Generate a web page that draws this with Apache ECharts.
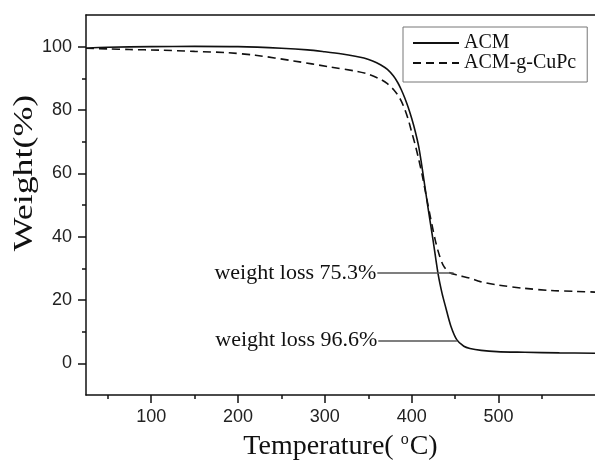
<!DOCTYPE html>
<html><head><meta charset="utf-8">
<script src="https://cdn.jsdelivr.net/npm/echarts@6/dist/echarts.min.js"></script>
<style>html,body{margin:0;padding:0;background:#fff}#c{width:595px;height:463px}</style>
</head><body><div id="c"></div>
<script>
const seriesNames = ['ACM', 'ACM-g-CuPc'];
const acmTemp = [25, 50, 100, 150, 200, 250, 280, 300, 320, 335, 345, 355, 364, 372, 379, 384, 388, 392, 396, 400, 404, 408, 412.5, 418.5, 424.5, 430.5, 435, 439, 445, 452, 460, 467, 480, 498, 530, 570, 611];
const acmWeight = [99.5, 99.8, 100, 100.1, 100, 99.5, 99, 98.4, 97.7, 97, 96.4, 95.5, 94.3, 92.8, 90.7, 88.6, 86.4, 83.8, 80.8, 77.3, 73.3, 68.5, 60.8, 49.6, 39, 28, 22, 17.8, 11.8, 7.4, 5.4, 4.7, 4.1, 3.7, 3.5, 3.3, 3.2];
const cupcTemp = [25, 50, 75, 110, 150, 187, 220, 264, 306, 337, 350, 364, 372, 379, 384, 388, 392, 396, 400, 404, 408, 412, 419, 427, 432, 437, 444, 452, 467, 479, 500, 529, 560, 590, 611];
const cupcWeight = [99.5, 99.3, 99.1, 98.9, 98.5, 98.1, 97.3, 95.5, 93.6, 92.2, 91.3, 89.7, 88.3, 86.5, 84.7, 82.8, 80.2, 77, 73, 69, 64.5, 59.5, 49.6, 39, 34, 30.6, 28.6, 27.9, 26.9, 25.8, 24.7, 23.7, 23, 22.7, 22.5];
const xTickLabels = [100, 200, 300, 400, 500];
const xMinorTicks = [50, 150, 250, 350, 450, 550];
const yTickLabels = [0, 20, 40, 60, 80, 100];
const yMinorTicks = [10, 30, 50, 70, 90];
const annotationTexts = ['weight loss 75.3%', 'weight loss 96.6%'];
const annotationLevels = [28.5, 7.15];
const annotationStart = [360.4, 361.5];
const annotationEnd = [448.2, 452];

const serif = 'Liberation Serif';
const sans = 'Liberation Sans';
const ink = '#111';
const X_MIN = 25, X_MAX = 611, Y_MIN = -10, Y_MAX = 110;

const zip = (a, b) => a.map((v, i) => [v, b[i]]);

const chart = echarts.init(document.getElementById('c'), null, {renderer: 'canvas'});
chart.setOption({
  animation: false,
  backgroundColor: '#fff',
  grid: {left: 86, right: 0, top: 15, bottom: 68, containLabel: false, outerBoundsMode: 'none'},
  legend: {
    data: seriesNames,
    orient: 'vertical',
    left: 403, top: 27,
    itemWidth: 46, itemHeight: 14, itemGap: 0,
    padding: [6, 11, 9, 9],
    borderColor: '#777', borderWidth: 1,
    itemStyle: {color: 'rgba(0,0,0,0)', borderWidth: 0, opacity: 0},
    textStyle: {fontFamily: serif, fontSize: 20, color: ink, lineHeight: 19},
    selectedMode: false
  },
  xAxis: [
    {
      type: 'value', min: X_MIN, max: X_MAX, position: 'bottom',
      axisLine: {show: true, onZero: false, lineStyle: {color: ink, width: 1.5}},
      axisTick: {show: true, customValues: xTickLabels, length: 8, lineStyle: {color: ink, width: 1.5}},
      axisLabel: {customValues: xTickLabels, margin: 13, fontFamily: sans, fontSize: 18, color: '#222'},
      splitLine: {show: false},
      name: '{a|Temperature( }{s|o}{a|C)}',
      nameLocation: 'middle', nameGap: 37,
      nameTextStyle: {
        rich: {
          a: {fontFamily: serif, fontSize: 28, color: ink, lineHeight: 30},
          s: {fontFamily: serif, fontSize: 16, color: ink, lineHeight: 24, verticalAlign: 'top', padding: [0, 1, 0, 0]}
        }
      }
    },
    {
      type: 'value', min: X_MIN, max: X_MAX, position: 'bottom', offset: 0,
      axisLine: {show: false, onZero: false},
      axisTick: {show: true, customValues: xMinorTicks, length: 4, lineStyle: {color: ink, width: 1.5}},
      axisLabel: {show: false},
      splitLine: {show: false}
    },
    {
      type: 'value', min: X_MIN, max: X_MAX, position: 'top',
      axisLine: {show: true, onZero: false, lineStyle: {color: ink, width: 1.5}},
      axisTick: {show: false}, axisLabel: {show: false}, splitLine: {show: false}
    }
  ],
  yAxis: [
    {
      type: 'value', min: Y_MIN, max: Y_MAX, position: 'left',
      axisLine: {show: true, onZero: false, lineStyle: {color: ink, width: 1.5}},
      axisTick: {show: true, customValues: yTickLabels, length: 8, lineStyle: {color: ink, width: 1.5}},
      axisLabel: {customValues: yTickLabels, margin: 14, fontFamily: sans, fontSize: 18, color: '#222'},
      splitLine: {show: false}
    },
    {
      type: 'value', min: Y_MIN, max: Y_MAX, position: 'left', offset: 0,
      axisLine: {show: false, onZero: false},
      axisTick: {show: true, customValues: yMinorTicks, length: 4, lineStyle: {color: ink, width: 1.5}},
      axisLabel: {show: false}, splitLine: {show: false}
    }
  ],
  graphic: [{
    type: 'text', x: 24.5, y: 173, rotation: Math.PI / 2, scaleX: 1.28, scaleY: 1,
    style: {text: 'Weight(%)', font: '28px "Liberation Serif"', fill: ink, align: 'center', verticalAlign: 'middle'}
  }],
  series: [
    {
      name: seriesNames[0], type: 'line', xAxisIndex: 0, yAxisIndex: 0,
      data: zip(acmTemp, acmWeight),
      symbol: 'none', showSymbol: false, smooth: 0.3,
      lineStyle: {color: ink, width: 1.6, type: 'solid'},
      itemStyle: {color: ink},
      markLine: {
        silent: true, symbol: ['none', 'none'], animation: false,
        lineStyle: {color: '#555', width: 1.5, type: 'solid'},
        label: {show: true, position: 'start', distance: 1, fontFamily: serif, fontSize: 22, color: ink},
        data: annotationTexts.map((t, i) => [
          {coord: [annotationStart[i], annotationLevels[i]], label: {formatter: t}},
          {coord: [annotationEnd[i], annotationLevels[i]]}
        ])
      }
    },
    {
      name: seriesNames[1], type: 'line', xAxisIndex: 0, yAxisIndex: 0,
      data: zip(cupcTemp, cupcWeight),
      symbol: 'none', showSymbol: false, smooth: 0.3,
      lineStyle: {color: ink, width: 1.6, type: [8, 5]},
      itemStyle: {color: ink}
    }
  ]
});
</script></body></html>
